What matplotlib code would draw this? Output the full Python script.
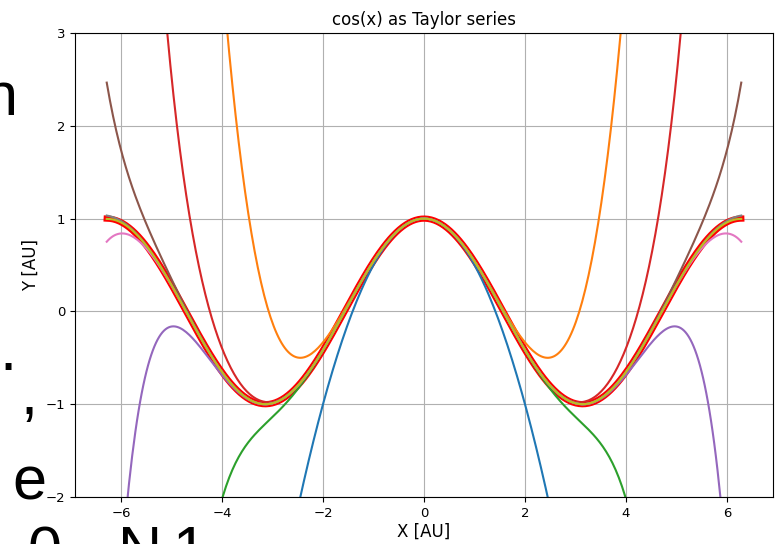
import numpy as np
import matplotlib
matplotlib.use("Agg")
import matplotlib.pyplot as plt
from math import factorial

# Taylor series of cos(x): partial sums with N = 1..9 terms beyond the constant
x_start, x_end, n_points = -2 * np.pi, 2 * np.pi, 400
n_terms = [1, 2, 3, 4, 5, 6, 7, 8, 9]

# stray large text fragments along the left/bottom edge of the screenshot
frag_text = ["n", ".", ",", "e", "0", "N", "1"]
frag_px = [(18, 115), (-1, 370), (21, 414), (46, 500), (28, 569), (118, 569), (172, 569)]
frag_ha = ["right", "left", "left", "right", "left", "left", "left"]

x = np.linspace(x_start, x_end, n_points)

fig = plt.figure(figsize=(7.76, 5.44), dpi=100)
ax = fig.add_axes([75 / 776, 1 - 497 / 544, (773 - 75) / 776, (497 - 33) / 544])

ax.plot(x, np.cos(x), color="r", lw=4.5)
for n in n_terms:
    y = np.zeros_like(x)
    for k in range(n + 1):
        y += (-1) ** k * x ** (2 * k) / factorial(2 * k)
    ax.plot(x, y)

ax.set_ylim(-2, 3)
ax.grid(True)
ax.set_title("cos(x) as Taylor series", fontsize=12)
ax.set_xlabel("X [AU]", fontsize=12, labelpad=2)
ax.set_ylabel("Y [AU]", fontsize=12)
ax.tick_params(labelsize=9.5)

for t, (px, py), ha in zip(frag_text, frag_px, frag_ha):
    fig.text(px / 776, 1 - py / 544, t, fontsize=44, ha=ha, va="baseline",
             family="Liberation Sans", color="black")

fig.savefig("out.png", dpi=100)
